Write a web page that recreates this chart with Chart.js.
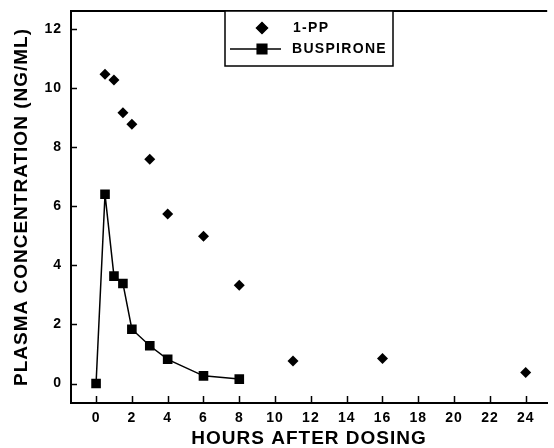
<!DOCTYPE html>
<html>
<head>
<meta charset="utf-8">
<script src="https://cdn.jsdelivr.net/npm/chart.js@4/dist/chart.umd.min.js"></script>
<style>
html,body{margin:0;padding:0;background:#fff;}
#wrap{width:554px;height:448px;}
</style>
</head>
<body>
<div id="wrap"><canvas id="c" width="554" height="448"></canvas></div>
<script>
// Data
const ppHours = [0.5, 1, 1.5, 2, 3, 4, 6, 8, 11, 16, 24];
const ppValues = [10.48, 10.28, 9.17, 8.78, 7.6, 5.74, 4.99, 3.33, 0.76, 0.85, 0.37];
const busHours = [0, 0.5, 1, 1.5, 2, 3, 4, 6, 8];
const busValues = [0, 6.41, 3.64, 3.39, 1.84, 1.28, 0.82, 0.26, 0.15];
const xTickValues = [0, 2, 4, 6, 8, 10, 12, 14, 16, 18, 20, 22, 24];
const yTickValues = [0, 2, 4, 6, 8, 10, 12];
const seriesNames = ['1-PP', 'BUSPIRONE'];
const xTitle = 'HOURS AFTER DOSING';
const yTitle = 'PLASMA CONCENTRATION (NG/ML)';

const FONT = '"Liberation Sans", Arial, sans-serif';

const toPoints = (xs, ys) => xs.map((x, i) => ({x: x, y: ys[i]}));

const framePlugin = {
  id: 'frame',
  beforeDraw(chart) {
    chart.ctx.letterSpacing = '1px';
  },
  afterDraw(chart) {
    const ctx = chart.ctx;
    const a = chart.chartArea;
    const xs = chart.scales.x, ys = chart.scales.y;
    ctx.save();
    ctx.strokeStyle = '#000';
    ctx.lineWidth = 2;
    // top frame line
    ctx.beginPath();
    ctx.moveTo(a.left, a.top);
    ctx.lineTo(a.right, a.top);
    ctx.stroke();
    // inward tick marks
    ctx.lineWidth = 1.5;
    ctx.beginPath();
    xTickValues.forEach(v => {
      const px = Math.round(xs.getPixelForValue(v)) + 0.5;
      ctx.moveTo(px, a.bottom);
      ctx.lineTo(px, a.bottom - 7);
    });
    yTickValues.forEach(v => {
      const py = Math.round(ys.getPixelForValue(v)) + 0.5;
      ctx.moveTo(a.left, py);
      ctx.lineTo(a.left + 6, py);
    });
    ctx.stroke();
    // legend box
    const bx = 225, by = a.top, bw = 168, bh = 55;
    ctx.fillStyle = '#fff';
    ctx.fillRect(bx, by, bw, bh);
    ctx.lineWidth = 1.5;
    ctx.strokeRect(bx, by, bw, bh);
    const ds = chart.data.datasets;
    const rows = [by + 17, by + 38];
    ctx.fillStyle = '#000';
    // row 1: diamond
    Chart.helpers.drawPoint(ctx, {pointStyle: ds[0].pointStyle, radius: ds[0].pointRadius, borderWidth: 1}, 262, rows[0]);
    ctx.fill();
    // row 2: line + square
    ctx.lineWidth = 1.5;
    ctx.beginPath();
    ctx.moveTo(230, rows[1]);
    ctx.lineTo(281, rows[1]);
    ctx.stroke();
    Chart.helpers.drawPoint(ctx, {pointStyle: ds[1].pointStyle, radius: ds[1].pointRadius, borderWidth: 1}, 262, rows[1]);
    ctx.fill();
    ctx.font = 'bold 14px ' + FONT;
    ctx.letterSpacing = '1.3px';
    ctx.textBaseline = 'middle';
    ctx.textAlign = 'left';
    ctx.fillText(ds[0].label, 293, rows[0]);
    ctx.fillText(ds[1].label, 292, rows[1]);
    ctx.restore();
  }
};

new Chart(document.getElementById('c'), {
  type: 'scatter',
  data: {
    datasets: [
      {
        label: seriesNames[0],
        data: toPoints(ppHours, ppValues),
        showLine: false,
        pointStyle: 'rectRot',
        pointRadius: 5.5,
        backgroundColor: '#000',
        borderColor: '#000',
        borderWidth: 0
      },
      {
        label: seriesNames[1],
        data: toPoints(busHours, busValues),
        showLine: true,
        pointStyle: 'rect',
        pointRadius: 6.8,
        backgroundColor: '#000',
        borderColor: '#000',
        borderWidth: 1.5,
        pointBorderWidth: 0,
        tension: 0
      }
    ]
  },
  options: {
    responsive: false,
    animation: false,
    events: [],
    layout: {padding: {top: 11, left: 0, right: 0, bottom: 0}},
    plugins: {legend: {display: false}, tooltip: {enabled: false}},
    scales: {
      x: {
        type: 'linear',
        min: -1.4,
        max: 25.2,
        afterBuildTicks: s => { s.ticks = xTickValues.map(v => ({value: v})); },
        afterFit: s => { s.height = 45; s.paddingLeft = 0; s.paddingRight = 0; },
        grid: {display: false, drawTicks: false},
        border: {display: true, color: '#000', width: 2},
        ticks: {color: '#000', font: {family: FONT, size: 14, weight: 'bold'}, padding: 7, maxRotation: 0, autoSkip: false},
        title: {display: true, text: xTitle, color: '#000', font: {family: FONT, size: 19, weight: 'bold', lineHeight: 1}, padding: {top: 0, bottom: 0}}
      },
      y: {
        type: 'linear',
        min: -0.66,
        max: 12.62,
        afterBuildTicks: s => { s.ticks = yTickValues.map(v => ({value: v})); },
        afterFit: s => { s.width = 71; s.paddingTop = 0; s.paddingBottom = 0; },
        grid: {display: false, drawTicks: false},
        border: {display: true, color: '#000', width: 2},
        ticks: {color: '#000', font: {family: FONT, size: 14, weight: 'bold'}, padding: 9},
        title: {display: true, text: yTitle, color: '#000', font: {family: FONT, size: 19, weight: 'bold', lineHeight: 1}, padding: {top: 12, bottom: 0}}
      }
    }
  },
  plugins: [framePlugin]
});
</script>
</body>
</html>
